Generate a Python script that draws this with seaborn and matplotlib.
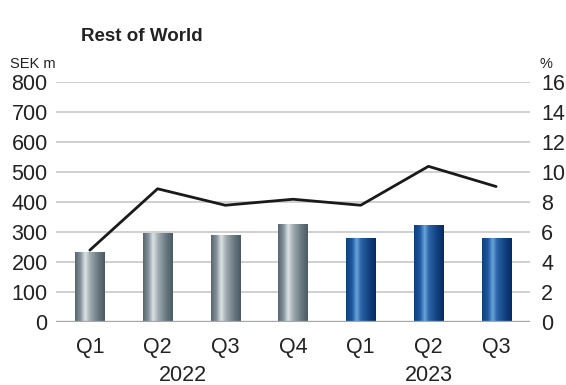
import numpy as np
import pandas as pd
import matplotlib
matplotlib.use("Agg")
import matplotlib.pyplot as plt
from matplotlib.colors import LinearSegmentedColormap
import seaborn as sns

# Quarterly figures, Rest of World
quarters = ["Q1", "Q2", "Q3", "Q4", "Q1", "Q2", "Q3"]
years = ["2022", "2022", "2022", "2022", "2023", "2023", "2023"]
sales_sek_m = [235, 296, 290, 328, 280, 324, 282]
margin_pct = [4.8, 8.9, 7.8, 8.2, 7.8, 10.4, 9.05]
left_ticks = [0, 100, 200, 300, 400, 500, 600, 700, 800]
right_ticks = [0, 2, 4, 6, 8, 10, 12, 14, 16]

df = pd.DataFrame({
    "key": [f"{q} {y}" for q, y in zip(quarters, years)],
    "quarter": quarters,
    "year": years,
    "sales": sales_sek_m,
    "margin": margin_pct,
})

sns.set_theme(style="white")
plt.rcParams["font.family"] = ["Liberation Sans", "DejaVu Sans"]

fig = plt.figure(figsize=(5.66, 3.85), dpi=100)
ax = fig.add_axes([56 / 566, (385 - 322) / 385, 474 / 566, 239.5 / 385])

sns.barplot(data=df, x="key", y="sales", ax=ax, width=0.43,
            color="#777777", saturation=1, zorder=2)

# Cylinder-style shading for each bar
gray_cmap = LinearSegmentedColormap.from_list("steel", [
    (0.0, "#55646d"), (0.18, "#83919a"), (0.34, "#dde3e6"),
    (0.5, "#a2adb3"), (0.78, "#687780"), (1.0, "#4a5962")])
blue_cmap = LinearSegmentedColormap.from_list("navy", [
    (0.0, "#0f3f7c"), (0.2, "#1d58a0"), (0.36, "#6aa4da"),
    (0.5, "#2b64a8"), (0.8, "#0e3d7c"), (1.0, "#072b62")])
grad = np.linspace(0, 1, 256).reshape(1, -1)
for patch, yr in zip(ax.patches, df["year"]):
    x0, y0 = patch.get_x(), patch.get_y()
    w, h = patch.get_width(), patch.get_height()
    patch.set_facecolor("none")
    patch.set_edgecolor("none")
    cmap = gray_cmap if yr == "2022" else blue_cmap
    im = ax.imshow(grad, cmap=cmap, aspect="auto",
                   extent=[x0, x0 + w, y0, y0 + h], zorder=2,
                   interpolation="bilinear")
    im.set_clip_path(patch)

ax.set_xlim(-0.5, len(df) - 0.5)
ax.set_ylim(0, 800)
ax.set_yticks(left_ticks)
ax.set_yticklabels([str(t) for t in left_ticks])
ax.yaxis.grid(True, color="#c4c4c4", linewidth=1.1, zorder=0)
ax.set_axisbelow(True)
ax.axhline(0, color="#a6a6a6", linewidth=2.4, zorder=3)
for s in ax.spines.values():
    s.set_visible(False)
ax.set_xlabel("")
ax.set_ylabel("")
ax.set_xticks(range(len(df)))
ax.set_xticklabels(quarters)
ax.tick_params(axis="y", length=0, pad=6, labelsize=15.5, labelcolor="#222222")
ax.tick_params(axis="x", length=0, pad=11, labelsize=15.5, labelcolor="#222222")

# Operating margin on the secondary axis
ax2 = ax.twinx()
sns.lineplot(x=np.arange(len(df)), y=df["margin"], ax=ax2,
             color="#1a1a1a", linewidth=2.0, zorder=4)
ax2.set_ylim(0, 16)
ax2.set_yticks(right_ticks)
ax2.set_yticklabels([str(t) for t in right_ticks])
ax2.grid(False)
for s in ax2.spines.values():
    s.set_visible(False)
ax2.set_ylabel("")
ax2.tick_params(axis="y", length=0, pad=8, labelsize=15.5, labelcolor="#222222")

# Year labels beneath the quarter labels
trans = ax.get_xaxis_transform()
ax.text(1.37, -0.18, "2022", transform=trans, ha="center", va="top",
        fontsize=15.5, color="#222222")
ax.text(5.0, -0.18, "2023", transform=trans, ha="center", va="top",
        fontsize=15.5, color="#222222")

fig.text(81 / 566, 1 - 41 / 385, "Rest of World", ha="left", va="baseline",
         fontsize=13.5, fontweight="bold", color="#222222")
fig.text(10 / 566, 1 - 68 / 385, "SEK m", ha="left", va="baseline",
         fontsize=10.5, color="#222222")
fig.text(540 / 566, 1 - 68 / 385, "%", ha="left", va="baseline",
         fontsize=10.5, color="#222222")

fig.savefig("out.png", dpi=100)
